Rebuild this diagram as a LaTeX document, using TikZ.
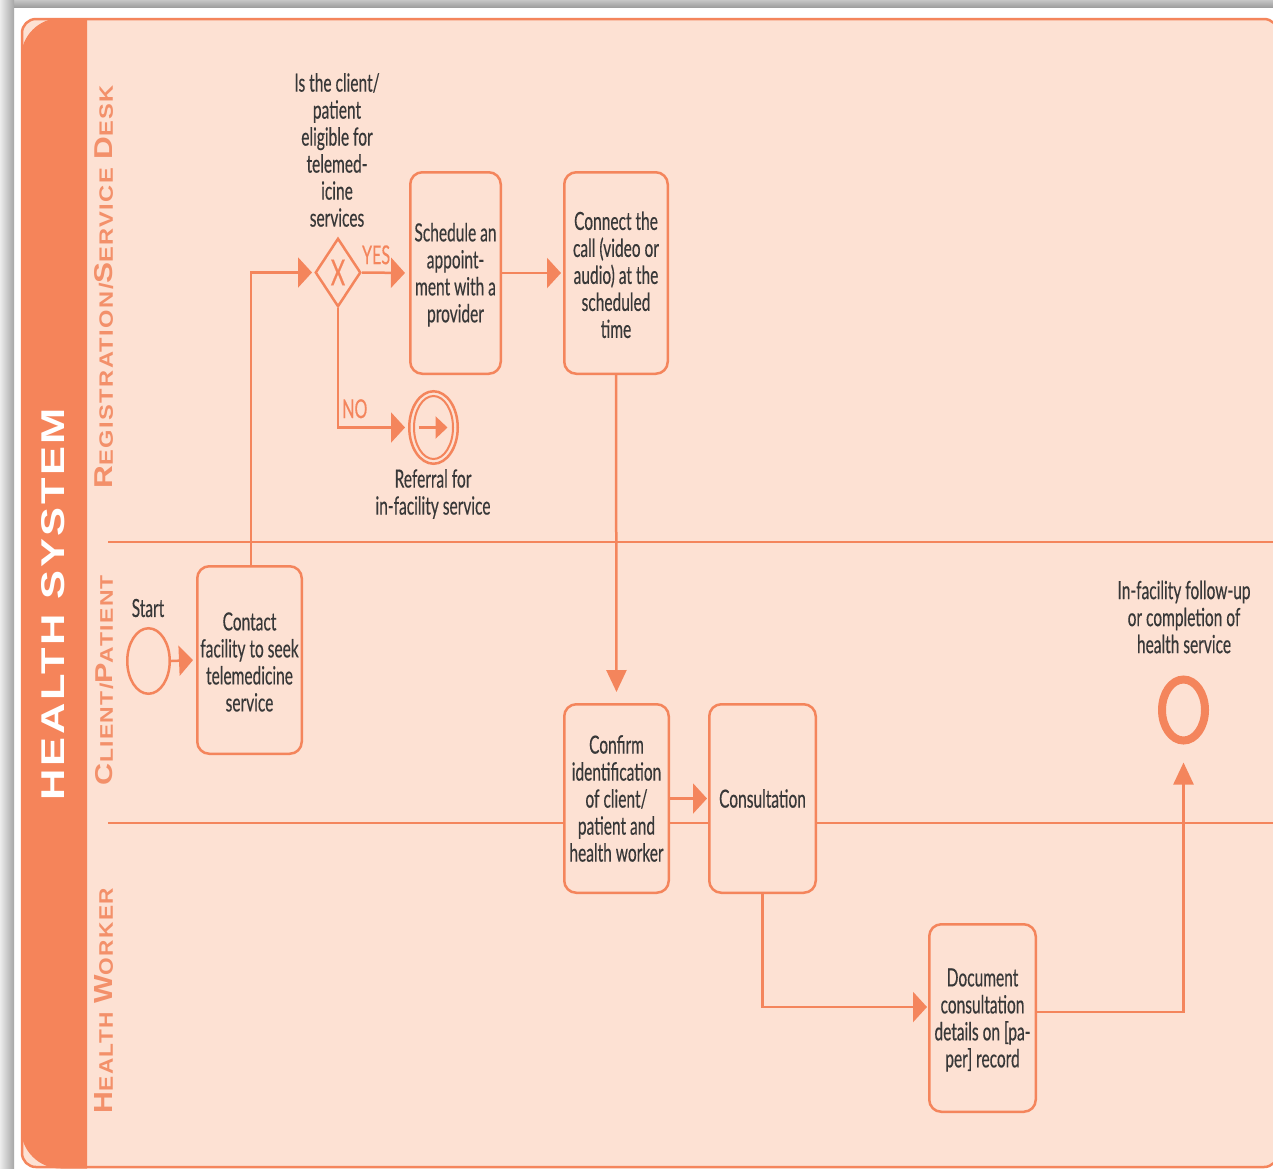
\documentclass[tikz,border=0pt]{standalone}
\usepackage{fontspec}
\usepackage{graphicx}
\usetikzlibrary{shapes.geometric,arrows.meta,calc}
\setmainfont{Lato}
\newfontfamily\condfont[FakeStretch=0.62,FakeBold=0.35]{Lato}
\newfontfamily\lanefont[LetterSpace=6]{Liberation Sans}
\definecolor{orng}{HTML}{F5845A}
\definecolor{lineo}{HTML}{F4855C}
\definecolor{peach}{HTML}{FDE1D3}
\definecolor{txt}{HTML}{383838}
\definecolor{lanetxt}{HTML}{F3906A}
\newcommand\lnbig[1]{{\fontsize{22}{22}\selectfont #1}}
\newcommand\lnsmall[1]{{\fontsize{16.5}{16.5}\selectfont #1}}
\begin{document}
\begin{tikzpicture}[x=1pt,y=-1pt,
  txtbase/.style={font=\condfont\fontsize{25}{27}\selectfont, text=txt, align=center, inner sep=0pt},
  task/.style={txtbase, draw=lineo, line width=2.5pt, fill=peach, rounded corners=12pt},
  flowh/.style={draw=lineo, line width=2.5pt, -{Triangle[length=14pt,width=30pt]}},
  flowv/.style={draw=lineo, line width=2.5pt, -{Triangle[length=22pt,width=20pt]}},
  lbl/.style={font=\condfont\fontsize{26}{27}\selectfont, text=lineo, inner sep=0pt},
  laneline/.style={draw=lineo, line width=1.5pt},
  lanelab/.style={rotate=90, inner sep=0pt, text=lanetxt, font=\lanefont\bfseries},
  event/.style={ellipse, draw=lineo, fill=peach, inner sep=0pt},
]
\useasboundingbox (0,0) rectangle (1273,1168);
\fill[white] (0,0) rectangle (1273,1168);
% shadows
\shade[top color=gray!45, bottom color=gray!75] (0,0) rectangle (1273,7);
\shade[left color=gray!15, right color=gray!70] (0,0) rectangle (14,1168);
% frame
\fill[peach, rounded corners=14pt] (22,19) rectangle (1278,1167);
\draw[lineo, line width=2.5pt, rounded corners=14pt] (22,19) rectangle (1278,1167);
\begin{scope}
  \clip (0,0) rectangle (87,1168);
  \fill[orng, rounded corners=40pt] (21,18) rectangle (200,1168.5);
\end{scope}
% lane titles
\node[rotate=90, inner sep=0pt, text=white, font=\lanefont\bfseries] (hs) at (53.5,604)
  {\resizebox{392pt}{23pt}{HEALTH SYSTEM}};
\node[lanelab] (l1) at (104,286.5)
  {\resizebox{403pt}{18pt}{\lnbig{R}\lnsmall{EGISTRATION/}\lnbig{S}\lnsmall{ERVICE}\hspace{0.6em}\lnbig{D}\lnsmall{ESK}}};
\node[lanelab] (l2) at (104.5,680)
  {\resizebox{210pt}{17pt}{\lnbig{C}\lnsmall{LIENT/}\lnbig{P}\lnsmall{ATIENT}}};
\node[lanelab] (l3) at (104,1000.5)
  {\resizebox{225pt}{18pt}{\lnbig{H}\lnsmall{EALTH}\hspace{0.6em}\lnbig{W}\lnsmall{ORKER}}};
% lane lines
\draw[laneline] (108,542) -- (1273,542);
\draw[laneline] (108,823) -- (1273,823);
% nodes
\node[txtbase] (q) at (337,150) {Is the client/\\patient\\eligible for\\telemed-\\icine\\services};
\node[diamond, draw=lineo, line width=2.5pt, fill=peach, inner sep=0pt, minimum width=45.5pt, minimum height=68.5pt, text=lineo, font=\condfont\fontsize{36}{36}\selectfont] (gw) at (338,272.5) {X};
\node[task, minimum width=90.5pt, minimum height=201.5pt] (sched) at (455.5,273) {\rule{0pt}{22pt}Schedule an\\appoint-\\ment with a\\provider};
\node[task, minimum width=103.5pt, minimum height=201.5pt] (conn) at (616,273) {\rule{0pt}{22pt}Connect the\\call (video or\\audio) at the\\scheduled\\time};
\node[event, line width=2.5pt, minimum width=48.5pt, minimum height=72.5pt] (ref) at (433.5,427.5) {};
\draw[lineo, line width=2pt] (ref.center) ellipse [x radius=19.5, y radius=31.5];
\draw[lineo, line width=2.5pt, -{Triangle[length=12pt,width=22pt]}] ($(ref.center)+(-15,0)$) -- ($(ref.center)+(14,0)$);
\node[txtbase] (reflab) at (433,494) {Referral for\\in-facility service};
\node[event, line width=2.5pt, minimum width=42.5pt, minimum height=65.5pt] (start) at (148.5,661) {};
\node[txtbase] (startlab) at (148,608) {Start};
\node[task, minimum width=104.5pt, minimum height=187.5pt] (contact) at (249.5,660) {\rule{0pt}{22pt}Contact\\facility to seek\\telemedicine\\service};
\node[task, minimum width=104.5pt, minimum height=188.5pt] (confirm) at (616.5,798.5) {Confirm\\identification\\of client/\\patient and\\health worker};
\node[task, minimum width=106.5pt, minimum height=188.5pt] (consult) at (762.5,798.5) {Consultation};
\node[task, minimum width=106.5pt, minimum height=187.5pt] (doc) at (982.5,1018) {\rule{0pt}{22pt}Document\\consultation\\details on [pa-\\per] record};
\node[event, line width=8pt, minimum width=43pt, minimum height=61pt] (endev) at (1183.5,710) {};
\node[txtbase] (endlab) at (1184,617) {In-facility follow-up\\or completion of\\health service};
% connectors
\draw[flowh, shorten >=3pt] (start.east) -- (contact.west);
\draw[flowh, shorten >=2pt] ([xshift=1.5pt]contact.north) |- (gw.west);
\draw[flowh, shorten >=4pt] (gw.east) -- (sched.west) node[lbl, pos=0.3, above=7pt] {YES};
\draw[flowh, shorten >=3pt] (gw.south) |- (ref.west) node[lbl, pos=0.62, above=8pt] {NO};
\draw[flowh, shorten >=2pt] (sched.east) -- (conn.west);
\draw[flowv, shorten >=11pt] (conn.south) -- (confirm.north);
\draw[flowh, shorten >=1pt] (confirm.east) -- (consult.west);
\draw[flowh, shorten >=1pt] (consult.south) |- ([yshift=11pt]doc.west);
\draw[flowv, shorten >=18pt] ([yshift=6pt]doc.east) -| (endev.south);
\end{tikzpicture}
\end{document}
